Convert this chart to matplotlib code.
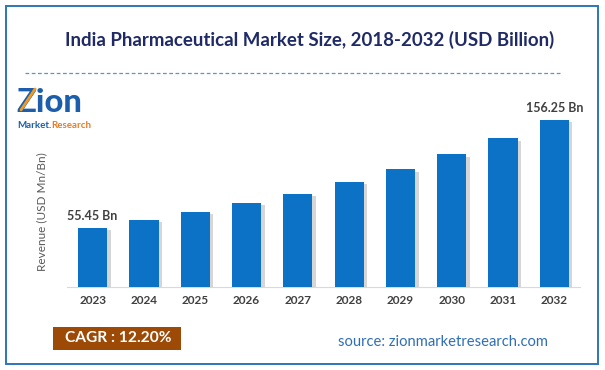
import matplotlib.pyplot as plt
import matplotlib.patheffects as pe
from matplotlib.patches import Rectangle
from matplotlib.lines import Line2D

plt.rcParams['font.family'] = ['Lato', 'DejaVu Sans']

years = ["2023", "2024", "2025", "2026", "2027", "2028", "2029", "2030", "2031", "2032"]
revenue = [55.45, 62.5, 70.0, 78.5, 87.5, 98.0, 110.0, 124.0, 139.0, 156.25]
bar_labels = {0: "55.45 Bn", 9: "156.25 Bn"}

W, H = 605, 370
fig = plt.figure(figsize=(W / 100, H / 100), dpi=100)
fig.patch.set_facecolor("white")

# outer frame
fig.patches.append(Rectangle((6 / W, 1 - 364 / H), 592 / W, 358 / H, transform=fig.transFigure,
                             fill=False, edgecolor="#2E75B6", lw=1.4))

fig.text(310 / W, 1 - 40 / H, "India Pharmaceutical Market Size, 2018-2032 (USD Billion)",
         ha="center", va="center", fontsize=13.4, fontweight="bold", color="#1F2A66")
fig.add_artist(Line2D([25 / W, 562 / W], [1 - 73 / H] * 2, transform=fig.transFigure,
                      ls=(0, (3, 2)), color="#5B93D3", lw=0.9))

# logo
fig.text(16 / W, 1 - 112 / H, "Zion", ha="left", va="baseline", fontsize=23.5,
         fontweight="black", color="#1B5EAB")
fig.add_artist(Line2D([21 / W, 35 / W], [1 - 110 / H, 1 - 89 / H], transform=fig.transFigure,
                      color="#F39A1E", lw=2.0, solid_capstyle="round", zorder=5))
fig.text(17 / W, 1 - 128 / H, "Market.", ha="left", va="baseline", fontsize=7,
         fontweight="bold", color="#1B5EAB")
fig.text(51 / W, 1 - 128 / H, "Research", ha="left", va="baseline", fontsize=7,
         fontweight="bold", color="#E87B1E")

ax = fig.add_axes([67 / W, (H - 287) / H, 513 / W, 187 / H])
x = list(range(len(years)))
bars = ax.bar(x, revenue, width=0.57, color="#0B72C6", zorder=3)
for b in bars:
    b.set_path_effects([pe.SimplePatchShadow(offset=(2.5, -1.5), shadow_rgbFace="#8C8C8C", alpha=0.35),
                        pe.Normal()])

for i, txt in bar_labels.items():
    ax.annotate(txt, (i, revenue[i]), xytext=(0, 4), textcoords="offset points",
                ha="center", va="bottom", fontsize=9, fontweight="bold", color="#404040")

ax.set_xlim(-0.5, 9.5)
ax.set_ylim(0, 175)
ax.set_xticks(x)
ax.set_xticklabels(years, fontsize=8.5, fontweight="bold", color="#404040")
ax.tick_params(axis="x", length=0, pad=6)
ax.set_yticks([])
for s in ["top", "right", "left"]:
    ax.spines[s].set_visible(False)
ax.spines["bottom"].set_color("#D9D9D9")
ax.set_facecolor("none")

fig.text(42 / W, 1 - 212 / H, "Revenue (USD Mn/Bn)", rotation=90, ha="center", va="center",
         fontsize=8.5, color="#595959")

# CAGR box
fig.patches.append(Rectangle((53 / W, 1 - 350 / H), 128 / W, 23 / H, transform=fig.transFigure,
                             facecolor="#9C4A06", edgecolor="none"))
fig.text(118 / W, 1 - 338.5 / H, "CAGR : 12.20%", ha="center", va="center",
         fontsize=11.2, fontweight="bold", color="white")

fig.text(443 / W, 1 - 342 / H, "source: zionmarketresearch.com", ha="center", va="center",
         fontsize=10.6, color="#2F6EB5")

fig.savefig("out.png", dpi=100)
